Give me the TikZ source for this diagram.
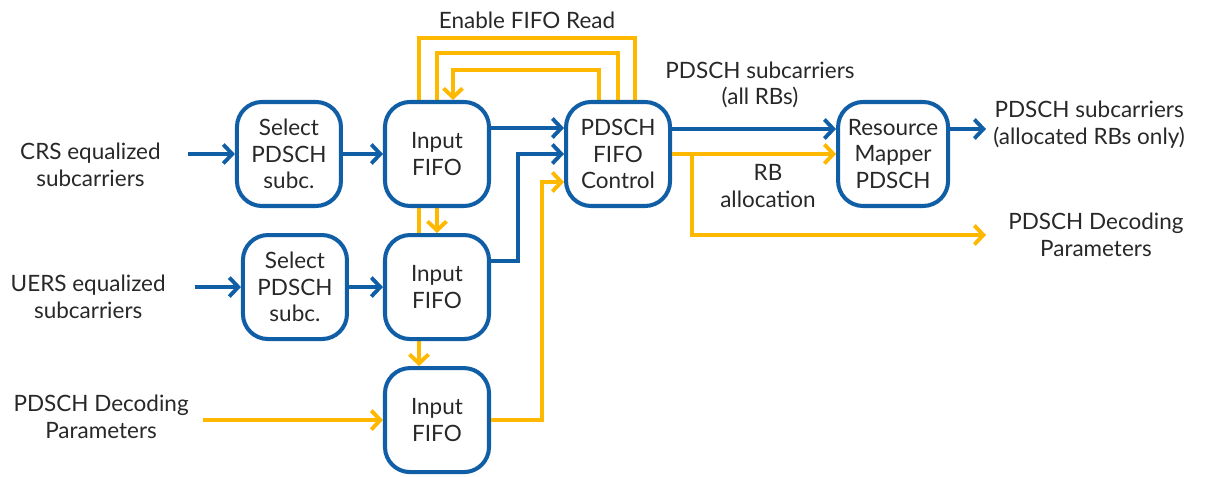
\documentclass[tikz,border=0pt]{standalone}
\usepackage{fontspec}
\setmainfont{Lato}
\usetikzlibrary{arrows.meta,positioning,backgrounds}
\definecolor{sigblue}{RGB}{16,94,166}
\definecolor{sigyellow}{RGB}{255,184,0}
\definecolor{txtgray}{RGB}{40,40,40}

\begin{document}
\begin{tikzpicture}[
  font=\fontsize{12.8}{15.2}\selectfont,text=txtgray,
  >={Straight Barb[length=1.8mm,width=3.8mm]},
  block/.style={draw=sigblue,line width=2.3pt,rounded corners=0.5cm,fill=white,
    align=center,minimum width=2.08cm,minimum height=2.08cm,inner sep=2pt},
  txt/.style={align=center,inner sep=0pt},
  data/.style={->,line width=2.2pt,sigblue},
  ctl/.style={->,line width=2.2pt,sigyellow}]
  \useasboundingbox (0,0) rectangle (24.5,-9.54);
  \node[block] (in1) at (8.74,-3.08) {Input\\FIFO};
  \node[block,below=0.5cm of in1] (in2) {Input\\FIFO};
  \node[block,below=0.5cm of in2] (in3) {Input\\FIFO};
  \node[block,left=0.8cm of in1] (sel1) {Select\\PDSCH\\subc.};
  \node[block,left=0.68cm of in2] (sel2) {Select\\PDSCH\\subc.};
  \node[block,right=1.46cm of in1] (ctrl) {PDSCH\\FIFO\\Control};
  \node[block,minimum width=2.2cm,right=3.28cm of ctrl] (res) {Resource\\Mapper\\PDSCH};
  % labels
  \node[txt,anchor=east] (crs) at (3.22,-3.30) {CRS equalized\\subcarriers};
  \node[txt,anchor=east] (uers) at (3.32,-5.94) {UERS equalized\\subcarriers};
  \node[txt,anchor=east] (pdin) at (3.78,-8.34) {PDSCH Decoding\\Parameters};
  \node[txt] (enable) at (10.54,-0.40) {Enable FIFO Read};
  \node[txt] (allrb) at (15.2,-1.70) {PDSCH subcarriers\\(all RBs)};
  \node[txt] (rballoc) at (15.36,-3.72) {RB\\allocation};
  \node[txt,anchor=west,inner xsep=1.4mm] (rbout) at (19.72,-2.50) {PDSCH subcarriers\\(allocated RBs only)};
  \node[txt,anchor=west,inner xsep=4.4mm] (pdout) at (19.72,-4.70) {PDSCH Decoding\\Parameters};
  % inputs
  \draw[data] ([xshift=5.4mm]crs.east |- sel1.west) -- (sel1.west);
  \draw[data] ([xshift=5.8mm]uers.east |- sel2.west) -- (sel2.west);
  \draw[ctl] ([xshift=2.8mm]pdin.east |- in3.west) -- (in3.west);
  \draw[data] (sel1.east) -- (sel1.east -| in1.west);
  \draw[data] (sel2.east) -- (in2.west);
  % into the control block
  \draw[data] ([yshift=5.2mm]in1.east) -- ([yshift=5.2mm]ctrl.west);
  \draw[data] ([yshift=5.2mm]in2.east) -- ++(0.54,0) |- (ctrl.west);
  \draw[ctl] (in3.east) -- ++(1.02,0) |- ([yshift=-5.6mm]ctrl.west);
  % enable lines
  \begin{pgfonlayer}{background}
    \draw[ctl] ([xshift=-3.8mm]ctrl.north) -- ++(0,0.6) -| ([xshift=3.2mm]in1.north);
    \draw[ctl] (ctrl.north) -- ++(0,0.94) -| (in2.north);
    \draw[ctl] ([xshift=3.4mm]ctrl.north) -- ++(0,1.24) -| ([xshift=-3.6mm]in3.north);
  \end{pgfonlayer}
  % outputs
  \draw[data] ([yshift=5mm]ctrl.east) -- ([yshift=5mm]res.west);
  \draw[ctl] (ctrl.east) -- (res.west);
  \draw[ctl] ([xshift=4mm]ctrl.east) |- (pdout.west);
  \draw[data] ([yshift=5mm]res.east) -- ([yshift=5mm]res.east -| rbout.west);
\end{tikzpicture}
\end{document}
